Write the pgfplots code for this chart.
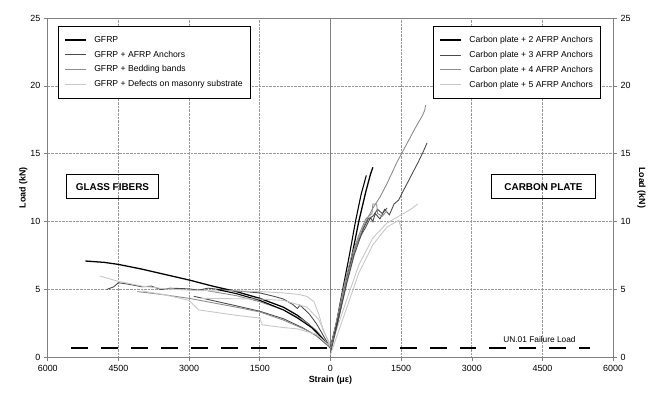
\documentclass[border=0pt]{standalone}
\usepackage{fontspec}
\setmainfont{Liberation Sans}
\usepackage{pgfplots}
\pgfplotsset{compat=1.18}
\definecolor{cA}{gray}{0}
\definecolor{cB}{gray}{0.3}
\definecolor{cC}{gray}{0.55}
\definecolor{cD}{gray}{0.78}
\pgfplotsset{
  base/.style={
    scale only axis, width=568bp, height=341bp,
    xmin=-6000, xmax=6000, ymin=0, ymax=25,
    /pgf/number format/assume math mode=true,
    tick label style={font=\fontsize{9}{11}\selectfont},
    label style={font=\bfseries\fontsize{9}{11}\selectfont},
    axis line style={draw=gray, line width=0.8pt},
    tick style={draw=gray, line width=0.6pt},
    tick align=outside, major tick length=4bp,
    ytick={0,5,...,25},
    legend cell align=left,
    legend image code/.code={\draw (0cm,0cm) -- (0.74cm,0cm);},
  },
  lg/.style={
    draw=black, line width=1pt, font=\fontsize{8.7}{10}\selectfont,
    inner xsep=6pt, inner ysep=8pt, row sep=3.2pt,
    nodes={inner sep=2pt},
    /tikz/every odd column/.append style={column sep=6pt},
  },
}
\begin{document}
\begin{tikzpicture}
\begin{axis}[base,
  xtick={-6000,-4500,...,6000},
  xticklabels={6000,4500,3000,1500,0,1500,3000,4500,6000},
  xtick pos=bottom, ytick pos=left,
  grid=major, grid style={densely dotted, draw=gray!80, line width=0.7pt},
  xlabel={Strain (με)}, ylabel={Load (kN)},
  xlabel style={yshift=2pt}, ylabel style={yshift=-4pt},
  legend style={lg, at={(rel axis cs:0.0176,0.977)}, anchor=north west},
  clip=false,
]
% invisible frame for the page size
\path (rel axis cs:-0.0845,-0.111) rectangle (rel axis cs:1.058,1.053);
% zero line
\draw[gray, line width=0.8pt] (axis cs:0,0) -- (axis cs:0,25);
% GFRP
\addplot[cA, line width=1.3pt] coordinates {(-5200,7.1) (-4800,7.0) (-4500,6.85) (-4000,6.5) (-3500,6.1) (-3000,5.7) (-2500,5.25) (-2000,4.85) (-1500,4.35) (-1000,3.7) (-700,3.1) (-450,2.4) (-250,1.7) (-100,1.1) (0,0.7)};
\addlegendentry{GFRP}
\addplot[cB, line width=0.9pt] coordinates {(-4750,5.0) (-4600,5.2) (-4500,5.5) (-4300,5.4) (-4000,5.2) (-3800,5.25) (-3600,5.0) (-3400,5.1) (-3000,5.05) (-2800,4.95) (-2600,5.1) (-2200,4.95) (-2000,4.9) (-1500,4.75) (-1200,4.5) (-1000,4.3) (-900,4.1) (-800,3.9) (-700,3.6) (-650,3.85) (-600,3.7) (-450,3.2) (-300,2.5) (-150,1.6) (0,0.7)};
\addlegendentry{GFRP + AFRP Anchors}
\addplot[cC, line width=0.9pt] coordinates {(-2600,4.9) (-2000,4.55) (-1500,4.1) (-1000,3.5) (-600,2.8) (-300,2.0) (0,0.7)};
\addlegendentry{GFRP + Bedding bands}
\addplot[cD, line width=0.9pt] coordinates {(-4900,6.0) (-4500,5.6) (-4000,5.25) (-3500,5.05) (-3000,4.95) (-2500,4.9) (-2000,4.9) (-1500,4.85) (-1000,4.75) (-700,4.65) (-500,4.5) (-350,4.1) (-250,3.2) (-150,2.0) (0,0.9)};
\addlegendentry{GFRP + Defects on masonry substrate}
\addplot[cA, line width=1.1pt, forget plot] coordinates {(-2400,5.0) (-2000,4.7) (-1500,4.2) (-1000,3.5) (-700,2.9) (-400,2.2) (-200,1.5) (0,0.7)};
\addplot[cB, line width=0.9pt, forget plot] coordinates {(-2900,4.5) (-2000,3.8) (-1500,3.4) (-1000,2.85) (-600,2.2) (-300,1.6) (0,0.7)};
\addplot[cC, line width=0.9pt, forget plot] coordinates {(-4100,4.85) (-3500,4.6) (-3000,4.35) (-2000,3.7) (-1500,3.35) (-1000,2.75) (-500,2.0) (-200,1.4) (0,0.7)};
\addplot[cD, line width=0.9pt, forget plot] coordinates {(-4000,4.9) (-3500,4.6) (-3000,4.2) (-2800,3.5) (-2000,3.1) (-1500,2.9) (-1450,2.4) (-1000,2.2) (-700,2.1) (-300,1.7) (0,0.8)};
\addplot[cD, line width=0.9pt, forget plot] coordinates {(-2750,4.35) (-1500,4.3) (-1000,4.2) (-500,3.7) (-250,2.8) (0,0.8)};
% failure load
\addplot[black, line width=2.5pt, dash pattern=on 17bp off 13bp, forget plot] coordinates {(-5500,0.7) (5500,0.7)};
\node[font=\fontsize{8.4}{10}\selectfont] at (axis cs:4437,1.32) {UN.01 Failure Load};
\node[draw=black, line width=1pt, minimum width=92bp, minimum height=24bp, font=\bfseries\fontsize{10}{12}\selectfont] at (axis cs:-4627,12.57) {GLASS FIBERS};
\node[draw=black, line width=1pt, minimum width=104bp, minimum height=24bp, font=\bfseries\fontsize{10}{12}\selectfont] at (axis cs:4521,12.57) {CARBON PLATE};
\end{axis}
\begin{axis}[base,
  axis x line=none, axis y line*=right,
  ylabel={Load (kN)}, ylabel style={rotate=180},
  legend style={lg, at={(rel axis cs:0.979,0.977)}, anchor=north east},
]
\addplot[cA, line width=1.3pt] coordinates {(0,0.7) (150,2.6) (300,5) (450,7.4) (600,10) (750,12.2) (850,13.5) (900,14.0)};
\addlegendentry{Carbon plate + 2 AFRP Anchors}
\addplot[cB, line width=0.9pt] coordinates {(0,0.7) (200,3.5) (400,6.5) (550,8.3) (650,9) (750,9.6) (850,10.3) (900,10.0) (950,10.6) (1050,10.2) (1150,10.9) (1250,10.5) (1350,11.3) (1450,11.6) (1550,12.3) (1700,13.3) (1850,14.3) (1950,15.0) (2050,15.8)};
\addlegendentry{Carbon plate + 3 AFRP Anchors}
\addplot[cC, line width=0.9pt] coordinates {(0,0.7) (200,3.6) (400,6.5) (600,8.8) (750,10.0) (900,11) (1050,11.8) (1200,12.8) (1400,14.3) (1600,15.6) (1800,16.9) (1950,17.8) (2000,18.2) (2020,18.6)};
\addlegendentry{Carbon plate + 4 AFRP Anchors}
\addplot[cD, line width=0.9pt] coordinates {(0,0.7) (300,3.8) (600,6.8) (900,8.8) (1200,9.9) (1500,10.5) (1700,10.9) (1850,11.3)};
\addlegendentry{Carbon plate + 5 AFRP Anchors}
\addplot[cA, line width=1.1pt, forget plot] coordinates {(0,0.7) (130,2.6) (260,5) (400,7.5) (530,10) (650,12) (760,13.4)};
\addplot[cB, line width=0.9pt, forget plot] coordinates {(0,0.3) (150,2.5) (350,5.5) (500,7.5) (600,8.5) (700,9.5) (800,10.2) (900,10.4) (1000,10.9) (1100,10.6) (1200,11.0)};
\addplot[cC, line width=0.9pt, forget plot] coordinates {(0,0.7) (150,3) (300,5.5) (450,7.5) (600,9.0) (750,10.2) (880,10.6) (900,11.3) (980,11.3) (1000,10.6) (1100,10.4) (1200,10.8)};
\addplot[cD, line width=0.9pt, forget plot] coordinates {(0,0.2) (300,3.2) (600,6.2) (900,8.3) (1200,9.6) (1450,10.1) (1500,9.5)};
\end{axis}
\end{tikzpicture}
\end{document}
